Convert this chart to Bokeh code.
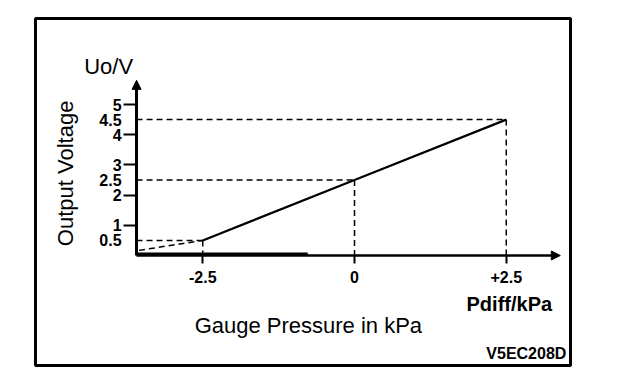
import math
from bokeh.plotting import figure
from bokeh.models import (LinearAxis, FixedTicker, Range1d, Label, Arrow, NormalHead)
from bokeh.embed import file_html
from bokeh.resources import INLINE

# ---- data ----
pressure = [-2.5, 0.0, 2.5]          # kPa
voltage = [0.5, 2.5, 4.5]            # V
low_pressure = [-3.55, -2.5]         # dashed lower branch
low_voltage = [0.17, 0.5]
base_pressure = [-3.59, -0.77]       # heavy segment along the axis
base_voltage = [0.05, 0.05]

x_axis_start, x_axis_end = -3.59, 3.39
y_axis_start, y_axis_end = 0.0, 5.8

x_ticks = [-2.5, 0.0, 2.5]
x_tick_labels = ["-2.5", "0", "+2.5"]
y_ticks = [0.5, 1, 2, 2.5, 3, 4, 4.5, 5]
y_tick_labels = ["0.5", "1", "2", "2.5", "3", "4", "4.5", "5"]
y_tick_marks = [1, 2, 3, 4, 5]

FONT = "Liberation Sans"

p = figure(width=580, height=375, output_backend="svg", toolbar_location=None,
           x_axis_type=None, y_axis_type=None,
           x_range=Range1d(-5.255, 3.558), y_range=Range1d(-3.642, 7.848),
           min_border_left=35, min_border_right=10, min_border_top=18, min_border_bottom=10)
p.outline_line_color = "black"
p.outline_line_width = 3
p.background_fill_color = "white"
p.border_fill_color = "white"

# axes
xax = LinearAxis(fixed_location=y_axis_start, bounds=(x_axis_start, x_axis_end - 0.1),
                 ticker=FixedTicker(ticks=x_ticks))
xax.major_label_overrides = {t: l for t, l in zip(x_ticks, x_tick_labels)}
xax.axis_line_width = 2.5
xax.major_tick_out = 8
xax.major_tick_in = 0
xax.major_tick_line_width = 2
xax.minor_tick_line_color = None
xax.major_label_standoff = 7
xax.major_label_text_font = FONT
xax.major_label_text_font_size = "16px"
xax.major_label_text_font_style = "bold"
xax.major_label_text_color = "black"
p.add_layout(xax, "below")

yax = LinearAxis(fixed_location=x_axis_start, bounds=(y_axis_start, y_axis_end - 0.2),
                 ticker=FixedTicker(ticks=y_ticks, minor_ticks=y_tick_marks))
yax.major_label_overrides = {t: l for t, l in zip(y_ticks, y_tick_labels)}
yax.axis_line_width = 3
yax.major_tick_line_color = None
yax.major_tick_out = 0
yax.major_tick_in = 0
yax.minor_tick_out = 13
yax.minor_tick_in = 0
yax.minor_tick_line_width = 2
yax.major_label_standoff = 2
yax.major_label_text_font = FONT
yax.major_label_text_font_size = "16px"
yax.major_label_text_font_style = "bold"
yax.major_label_text_color = "black"
p.add_layout(yax, "left")

# arrow heads
p.add_layout(Arrow(end=NormalHead(size=9, fill_color="black", line_color="black"),
                   x_start=x_axis_end - 0.15, y_start=y_axis_start,
                   x_end=x_axis_end, y_end=y_axis_start, line_width=2))
p.add_layout(Arrow(end=NormalHead(size=9, fill_color="black", line_color="black"),
                   x_start=x_axis_start, y_start=y_axis_end - 0.3,
                   x_end=x_axis_start, y_end=y_axis_end, line_width=2))

# dashed guides from data points to the axes
for px, vy in zip(pressure, voltage):
    p.line([x_axis_start, px], [vy, vy], line_color="black", line_width=1.5, line_dash="6 4")
    p.line([px, px], [vy, y_axis_start], line_color="black", line_width=1.5, line_dash="6 4")

p.line(low_pressure, low_voltage, line_color="black", line_width=1.5, line_dash="6 4")
p.line(base_pressure, base_voltage, line_color="black", line_width=3)

# main characteristic
p.line(pressure, voltage, line_color="black", line_width=2.2)

def lab(text, x, y, size, align="center", baseline="alphabetic", angle=0, style="normal"):
    p.add_layout(Label(x=x, y=y, text=text, text_font=FONT, text_font_size=size,
                       text_align=align, text_baseline=baseline, angle=angle,
                       text_font_style=style, text_color="black"))

lab("Uo/V", -4.05, 6.26, "22px")
lab("Output Voltage", -4.76, 2.72, "22px", baseline="middle", angle=math.pi / 2)
lab("Pdiff/kPa", 2.55, -1.62, "20px", style="bold")
lab("Gauge Pressure in kPa", -0.76, -2.32, "22px")
lab("V5EC208D", 3.49, -3.26, "16px", align="right", style="bold")

open("out.html", "w").write(file_html(p, INLINE))
